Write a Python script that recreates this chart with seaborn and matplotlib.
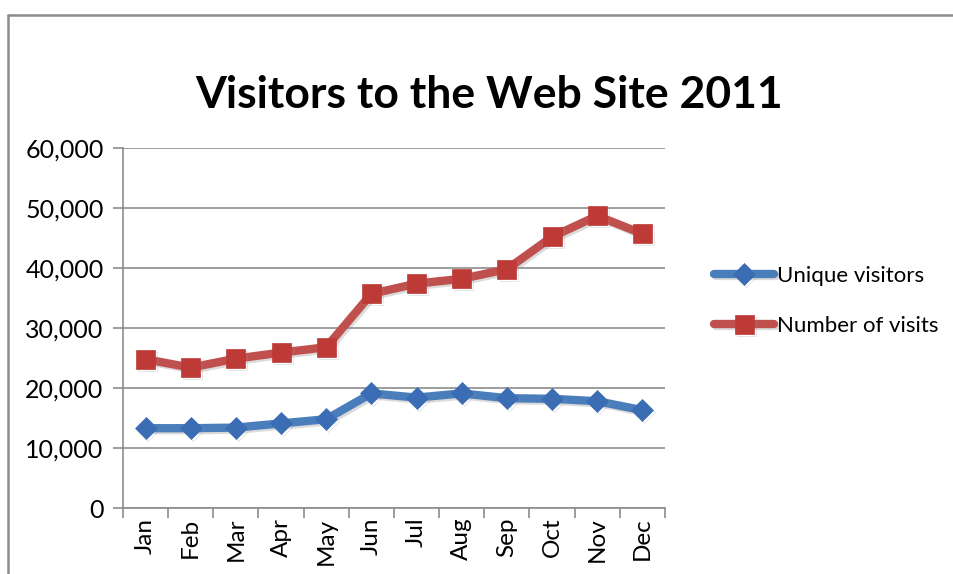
import numpy as np
import pandas as pd
import matplotlib.pyplot as plt
import matplotlib.patheffects as pe
from matplotlib.lines import Line2D
from matplotlib.ticker import FuncFormatter, MultipleLocator
import seaborn as sns

# Data
months = ['Jan', 'Feb', 'Mar', 'Apr', 'May', 'Jun',
          'Jul', 'Aug', 'Sep', 'Oct', 'Nov', 'Dec']
unique_visitors = [13300, 13300, 13400, 14100, 14800, 19100,
                   18400, 19100, 18300, 18200, 17800, 16300]
number_of_visits = [24800, 23400, 24900, 25900, 26800, 35700,
                    37400, 38200, 39800, 45200, 48700, 45700]

series_names = ['Unique visitors', 'Number of visits']
line_colors = {'Unique visitors': '#4A7EBB', 'Number of visits': '#C0504D'}
marker_colors = {'Unique visitors': '#3A6DB3', 'Number of visits': '#BE3A36'}
marker_shapes = {'Unique visitors': 'D', 'Number of visits': 's'}
marker_sizes = {'Unique visitors': 14, 'Number of visits': 17}

df = pd.DataFrame({
    'idx': list(range(len(months))) * 2,
    'Month': months * 2,
    'Value': unique_visitors + number_of_visits,
    'Series': ['Unique visitors'] * len(months) + ['Number of visits'] * len(months),
})

sns.set_theme(style='white')
plt.rcParams['font.family'] = ['Lato', 'DejaVu Sans']
plt.rcParams['text.color'] = 'black'

fig = plt.figure(figsize=(9.54, 5.74), dpi=100)
ax = fig.add_axes([123 / 954, 1 - 508 / 574, (665 - 123) / 954, (508 - 148) / 574])

shadow = [pe.SimpleLineShadow(offset=(1.5, -1.5), shadow_color='#999999', alpha=0.35),
          pe.Normal()]

for name in series_names:
    sub = df[df['Series'] == name]
    sns.lineplot(data=sub, x='idx', y='Value', ax=ax, color=line_colors[name],
                 linewidth=6, marker=marker_shapes[name],
                 markersize=marker_sizes[name],
                 markerfacecolor=marker_colors[name],
                 markeredgecolor=marker_colors[name], markeredgewidth=0.5,
                 label=name, zorder=3, path_effects=shadow)

ax.set_xlim(-0.5, len(months) - 0.5)
ax.set_ylim(0, 60000)
ax.yaxis.set_major_locator(MultipleLocator(10000))
ax.yaxis.set_major_formatter(FuncFormatter(lambda v, p: f'{int(v):,}'))
ax.set_xticks(range(len(months)))
ax.set_xticklabels(months, rotation=90)
ax.set_xticks(np.arange(-0.5, len(months)), minor=True)
ax.set_xlabel('')
ax.set_ylabel('')

ax.grid(axis='y', color='#8C8C8C', linewidth=1.2)
ax.grid(axis='x', visible=False)
for side in ['top', 'right']:
    ax.spines[side].set_visible(False)
for side in ['left', 'bottom']:
    ax.spines[side].set_color('#8C8C8C')
    ax.spines[side].set_linewidth(1.2)

ax.tick_params(axis='y', which='major', left=True, length=7, width=1.2,
               color='#8C8C8C', labelsize=18, pad=7, labelcolor='black')
ax.tick_params(axis='x', which='major', bottom=False, length=0,
               labelsize=17.5, pad=7, labelcolor='black')
ax.tick_params(axis='x', which='minor', bottom=True, length=7, width=1.2,
               color='#8C8C8C')

ax.get_legend().remove()
handles, labels = ax.get_legend_handles_labels()
for h in handles:
    h.set_markersize(h.get_markersize() * 0.8)
fig.legend(handles, labels, loc='center left',
           bbox_to_anchor=(703 / 954, 1 - 301 / 574), frameon=False,
           fontsize=16, handlelength=2.7, handletextpad=0.15,
           labelspacing=1.35, borderpad=0)

fig.text(489 / 954, 1 - 95 / 574, 'Visitors to the Web Site 2011',
         ha='center', va='center', fontsize=32, fontweight='bold',
         color='black')

# chart-area frame (only top and left edges visible in the reference)
frame_y = 1 - 15 / 574
frame_x = 8 / 954
fig.add_artist(Line2D([frame_x, 1.05], [frame_y, frame_y], transform=fig.transFigure,
                      color='#8C8C8C', linewidth=1.8))
fig.add_artist(Line2D([frame_x, frame_x], [-0.05, frame_y], transform=fig.transFigure,
                      color='#8C8C8C', linewidth=1.8))

fig.savefig('out.png', dpi=100)
